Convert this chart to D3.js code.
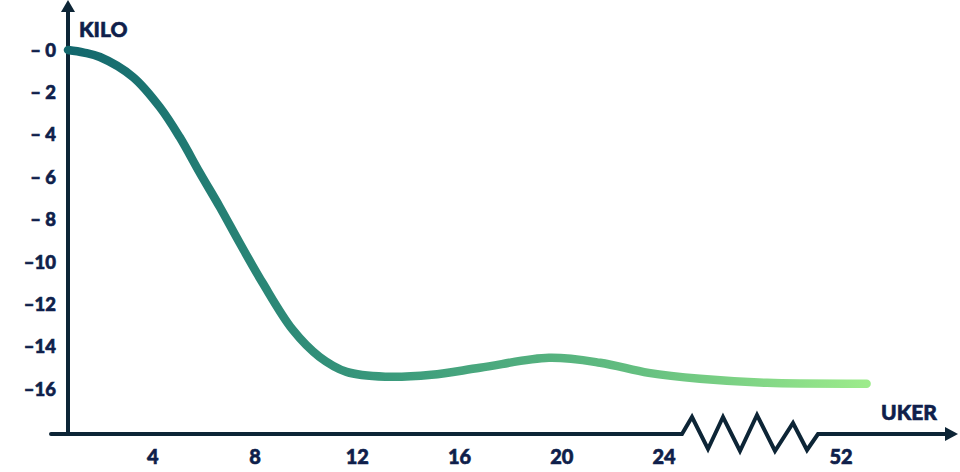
<!DOCTYPE html>
<html>
<head>
<meta charset="utf-8">
<script src="https://cdn.jsdelivr.net/npm/d3@7"></script>
<style>
  html, body { margin: 0; padding: 0; background: #ffffff; }
  svg { display: block; }
  text { font-family: Lato, "Open Sans", sans-serif; font-weight: 900; fill: #0f1f4b; stroke: #0f1f4b; stroke-width: 0.6px; }
</style>
</head>
<body>
<svg id="chart" width="960" height="472"></svg>
<script>
// ---- data ----
const weeks = [0.68, 1.3, 1.93, 3.22, 4.27, 5.05, 5.84, 6.62, 7.40, 8.30, 9.47, 10.52, 11.58, 13.1, 14.9, 16.8, 19.5, 21.5, 23.4, 29.7, 40.3, 53.0];
const kilos = [0, -0.12, -0.33, -1.27, -2.69, -4.11, -5.80, -7.41, -9.11, -11.0, -13.2, -14.48, -15.19, -15.42, -15.33, -15.0, -14.53, -14.76, -15.24, -15.52, -15.71, -15.75];
const xTicks = [4, 8, 12, 16, 20, 24, 52];
const yTicks = [0, -2, -4, -6, -8, -10, -12, -14, -16];
const yTitle = "KILO";
const xTitle = "UKER";

const svg = d3.select("#chart");
const axisColor = "#0d2536";

// broken x scale: 0..24 linear, 24..52 compressed, then linear again
const x = d3.scaleLinear().domain([0, 24, 52, 53.2]).range([50.6, 664, 841, 871.7]);
const y = d3.scaleLinear().domain([0, -16]).range([50, 389]);

const axisX = 68;       // y axis position
const baseY = 434;      // x axis position

// gradient
const defs = svg.append("defs");
const grad = defs.append("linearGradient")
  .attr("id", "lineGrad")
  .attr("gradientUnits", "userSpaceOnUse")
  .attr("x1", x(weeks[0])).attr("x2", x(weeks[weeks.length - 1]))
  .attr("y1", 0).attr("y2", 0);
grad.append("stop").attr("offset", "0%").attr("stop-color", "#12676d");
grad.append("stop").attr("offset", "40%").attr("stop-color", "#3a9a7c");
grad.append("stop").attr("offset", "70%").attr("stop-color", "#62bd80");
grad.append("stop").attr("offset", "100%").attr("stop-color", "#9ceb8b");

// y axis line + arrow
svg.append("line")
  .attr("x1", axisX).attr("x2", axisX)
  .attr("y1", baseY + 2).attr("y2", 10)
  .attr("stroke", axisColor).attr("stroke-width", 4);
svg.append("path")
  .attr("d", `M${axisX},0 L${axisX + 7},12 L${axisX - 7},12 Z`)
  .attr("fill", axisColor);

// x axis with break zigzag
const bx0 = x(24) + 18, bx1 = x(52) - 23;
const zig = [[0, 0], [10, -17], [26, 15], [41, -17], [58, 17], [75, -19], [93, 17], [111, -11], [125, 16], [136, 0]];
const sx = (bx1 - bx0) / 136;
const axisPts = [[51, baseY]]
  .concat(zig.map(([dx, dy]) => [bx0 + dx * sx, baseY + dy]))
  .concat([[948, baseY]]);
svg.append("path")
  .attr("d", d3.line()(axisPts))
  .attr("fill", "none")
  .attr("stroke", axisColor)
  .attr("stroke-width", 4)
  .attr("stroke-linejoin", "miter")
  .attr("stroke-linecap", "round");
svg.append("path")
  .attr("d", `M958,${baseY} L945,${baseY - 7} L945,${baseY + 7} Z`)
  .attr("fill", axisColor);

// y tick labels
svg.selectAll(".ylab").data(yTicks).enter().append("text")
  .attr("class", "ylab")
  .attr("x", 56)
  .attr("y", d => y(d))
  .attr("dy", "0.36em")
  .attr("text-anchor", "end")
  .attr("font-size", 18.5)
  .text(d => Math.abs(d) < 10 ? "\u2013 " + Math.abs(d) : "\u2013" + Math.abs(d));

// x tick labels
svg.selectAll(".xlab").data(xTicks).enter().append("text")
  .attr("class", "xlab")
  .attr("x", d => x(d))
  .attr("y", 457)
  .attr("dy", "0.36em")
  .attr("text-anchor", "middle")
  .attr("font-size", 20)
  .text(d => d);

// titles
svg.append("text").attr("x", 79).attr("y", 37).attr("font-size", 21).text(yTitle);
svg.append("text").attr("x", 881).attr("y", 420).attr("font-size", 21).text(xTitle);

// curve
const data = weeks.map((w, i) => ({ w, k: kilos[i] }));
svg.append("path")
  .datum(data)
  .attr("d", d3.line().x(d => x(d.w)).y(d => y(d.k)).curve(d3.curveCatmullRom.alpha(0.5)))
  .attr("fill", "none")
  .attr("stroke", "url(#lineGrad)")
  .attr("stroke-width", 8.5)
  .attr("stroke-linecap", "round")
  .attr("stroke-linejoin", "round");
</script>
</body>
</html>
